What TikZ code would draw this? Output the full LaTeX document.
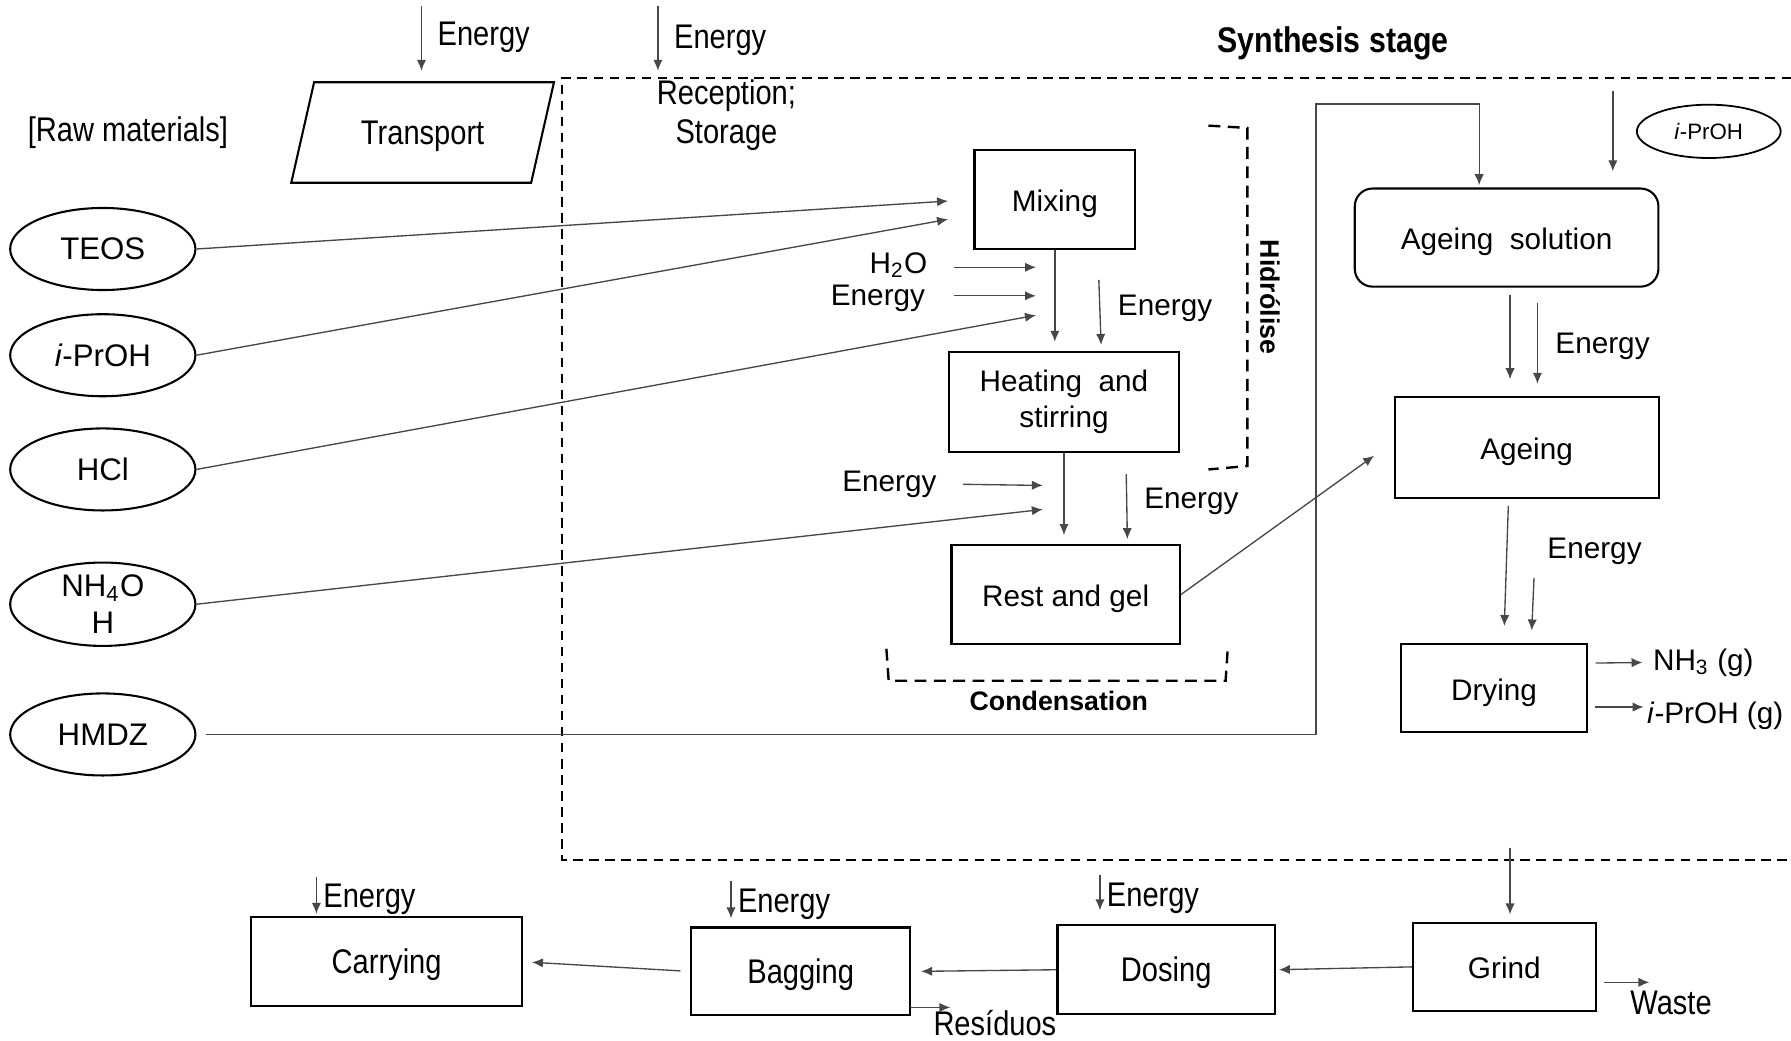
\documentclass[tikz,border=0pt]{standalone}
\usepackage{fontspec}
\setmainfont{Liberation Sans}
\newfontfamily\narrowsf[FakeStretch=0.85]{Liberation Sans}
\usetikzlibrary{shapes, arrows.meta, positioning, calc}

\begin{document}
\begin{tikzpicture}[x=0.0135cm, y=-0.0135cm,
    font=\fontsize{10}{12}\selectfont,
    stage/.style={draw, line width=0.7pt, inner sep=0pt, align=center},
    low/.style={text height=0.95em, text depth=0.15em},
    feed/.style={draw, ellipse, line width=0.7pt, minimum width=2.19cm, minimum height=0.97cm,
      inner sep=0pt, align=center, font=\fontsize{10.5}{12.5}\selectfont},
    flow/.style={-{Latex[length=1.3mm,width=1.1mm]}, draw=black!72, line width=0.45pt},
    narrow/.style={font=\narrowsf\fontsize{11.5}{13}\selectfont},
    tag/.style={font=\bfseries\fontsize{9}{11}\selectfont},
    bracket/.style={dash pattern=on 4pt off 2.5pt, line width=0.8pt}
  ]
  \useasboundingbox (0,0) rectangle (1568,911);

  % synthesis region
  \draw[dash pattern=on 3.2pt off 2.2pt, line width=0.6pt] (1568,68) -- (492,68) -- (492,753) -- (1568,753);
  \node[narrow, font=\narrowsf\bfseries\fontsize{12}{14}\selectfont] (synth) at (1167,38) {Synthesis stage};

  % raw materials
  \node[narrow] (raw) at (112,116) {[Raw materials]};
  \node[feed] (teos) at (90,218) {TEOS};
  \node[feed] (iproh) at (90,311) {\textit{i}-PrOH};
  \node[feed] (hcl) at (90,411) {HCl};
  \node[feed] (nh4oh) at (90,529) {NH\textsubscript{4}O\\H};
  \node[feed] (hmdz) at (90,643) {HMDZ};

  \draw[line width=0.7pt] (275,72) -- (485,72) -- (465,160) -- (255,160) -- cycle;
  \node[narrow] (transport) at (370,119) {Transport};
  \node[narrow, align=center] (recep) at (636,101) {Reception;\\Storage};

  % energy on top
  \coordinate (entA) at (369,5);
  \coordinate (entB) at (369,62);
  \draw[flow] (entA) -- (entB);
  \node[narrow, anchor=west] (entE) at (374,33) {Energy};
  \coordinate (recA) at (576,5);
  \coordinate (recB) at (576,62);
  \draw[flow] (recA) -- (recB);
  \node[narrow, anchor=west] (recE) at (581,35) {Energy};

  % hydrolysis / condensation
  \node[stage, low, minimum width=1.90cm, minimum height=1.17cm] (mix) at (923.5,174.5) {Mixing};
  \node[stage, minimum width=2.71cm, minimum height=1.19cm] (heat) at (931.5,352) {Heating~~and\\stirring};
  \node[stage, low, minimum width=2.70cm, minimum height=1.17cm] (rest) at (933,520.5) {Rest and gel};

  \coordinate (mixA) at (830,176);
  \coordinate (mixB) at (830,192);
  \draw[flow] (teos.east) -- (mixA);
  \draw[flow] (iproh.east) -- (mixB);

  \node[anchor=east, inner sep=1pt] (h2o) at (815,232) {H\textsubscript{2}O};
  \coordinate (h2oA) at (835,234);
  \coordinate (h2oB) at (907,234);
  \draw[flow] (h2oA) -- (h2oB);
  \node[anchor=east, inner sep=1pt] (enMixL) at (813,261) {Energy};
  \coordinate (enMixA) at (835,259);
  \coordinate (enMixB) at (907,259);
  \draw[flow] (enMixA) -- (enMixB);
  \coordinate (hclB) at (907,276);
  \draw[flow] (hcl.east) -- (hclB);

  \draw[flow, shorten >=3pt] (mix.south) -- (mix.south |- heat.north);
  \coordinate (enHeatA) at (962,245);
  \coordinate (enHeatB) at (964,302);
  \draw[flow] (enHeatA) -- (enHeatB);
  \node (enHeat) at (1020,270) {Energy};

  \node[anchor=east, inner sep=1pt] (enRestL) at (823,424) {Energy};
  \coordinate (enRestA) at (843,424);
  \coordinate (enRestB) at (913,425);
  \draw[flow] (enRestA) -- (enRestB);
  \coordinate (nhB) at (913,446);
  \draw[flow] (nh4oh.east) -- (nhB);

  \draw[flow, shorten >=3pt] (heat.south) -- (heat.south |- rest.north);
  \coordinate (enGelA) at (986,415);
  \coordinate (enGelB) at (987,472);
  \draw[flow] (enGelA) -- (enGelB);
  \node (enGel) at (1043,439) {Energy};

  \draw[bracket] (1058,110) -- (1092,112) -- (1092,408) -- (1058,411);
  \node[tag, rotate=-90] (hidro) at (1112,260) {Hidrólise};
  \draw[bracket] (776,568) -- (778,596) -- (1073,596) -- (1075,566);
  \node[tag] (cond) at (927,614) {Condensation};

  % ageing and drying
  \node[stage, low, rounded corners=6pt, minimum width=3.59cm, minimum height=1.16cm] (agesol) at (1319,208) {Ageing~~solution};
  \node[stage, low, minimum width=3.12cm, minimum height=1.19cm] (ageing) at (1336.5,392) {Ageing};
  \node[stage, low, minimum width=2.19cm, minimum height=1.04cm] (drying) at (1308,602.5) {Drying};
  \node[draw, ellipse, line width=0.6pt, minimum width=1.70cm, minimum height=0.63cm, inner sep=0pt,
    font=\fontsize{7.5}{9}\selectfont] (ipa) at (1496,115) {\textit{i}-PrOH};

  \draw[flow] ($(hmdz.east)+(8,0)$) -| (1152,91) -| ($(agesol.north)+(-24,-2)$);
  \coordinate (ipaA) at (1412,80);
  \coordinate (ipaB) at (1412,150);
  \draw[flow] (ipaA) -- (ipaB);

  \coordinate (gelB) at (1203,399);
  \draw[flow] (rest.east) -- (gelB);

  \coordinate (agA) at (1322,258);
  \coordinate (agB) at (1322,332);
  \draw[flow] (agA) -- (agB);
  \coordinate (enAgA) at (1346,265);
  \coordinate (enAgB) at (1346,336);
  \draw[flow] (enAgA) -- (enAgB);
  \node (enAg) at (1403,303) {Energy};

  \draw[flow] ($(ageing.south)+(-16,6)$) -- ($(drying.north)+(9,-15)$);
  \coordinate (enDryA) at (1343,506);
  \coordinate (enDryB) at (1341,552);
  \draw[flow] (enDryA) -- (enDryB);
  \node (enDry) at (1396,483) {Energy};

  \node[anchor=west] (nh3) at (1438,580) {NH\textsubscript{3} (g)};
  \draw[flow] ($(drying.east)+(7,-22)$) -- (nh3.west);
  \node[anchor=west, inner sep=1pt] (ipag) at (1439,627) {\textit{i}-PrOH (g)};
  \coordinate (ipagA) at (1396,619);
  \draw[flow] (ipagA) -- (ipag.west |- ipagA);

  % packaging line
  \node[stage, low, minimum width=2.16cm, minimum height=1.04cm] (grind) at (1317,846.5) {Grind};
  \node[stage, narrow, low, minimum width=2.57cm, minimum height=1.05cm] (dosing) at (1021,849) {Dosing};
  \node[stage, narrow, low, minimum width=2.59cm, minimum height=1.04cm] (bagging) at (701,850.5) {Bagging};
  \node[stage, narrow, low, minimum width=3.20cm, minimum height=1.05cm] (carrying) at (338.5,842) {Carrying};

  \coordinate (grindA) at (1322,742);
  \draw[flow, shorten >=2.5pt] (grindA) -- (grindA |- grind.north);
  \draw[flow, shorten >=1pt] (grind.west) -- (dosing.east);
  \draw[flow, shorten >=3.3pt] (dosing.west) -- (bagging.east);
  \draw[flow, shorten <=3.3pt, shorten >=3pt] (bagging.west) -- (carrying.east);

  \coordinate (wasteA) at (1404,860);
  \coordinate (wasteB) at (1444,860);
  \draw[flow] (wasteA) -- (wasteB);
  \node[narrow] (waste) at (1463,878) {Waste};
  \coordinate (resA) at (797,882);
  \coordinate (resB) at (832,882);
  \draw[flow] (resA) -- (resB);
  \node[narrow] (res) at (871,896) {Resíduos};

  \foreach \n/\x/\ya/\yb/\yl in {dos/963/766/797/786, bag/640/771/804/792, car/277/768/800/787} {
    \coordinate (\n EA) at (\x,\ya);
    \coordinate (\n EB) at (\x,\yb);
    \draw[flow] (\n EA) -- (\n EB);
    \node[narrow, anchor=west, inner sep=1pt] (\n E) at (\x+3,\yl) {Energy};
  }
\end{tikzpicture}
\end{document}
